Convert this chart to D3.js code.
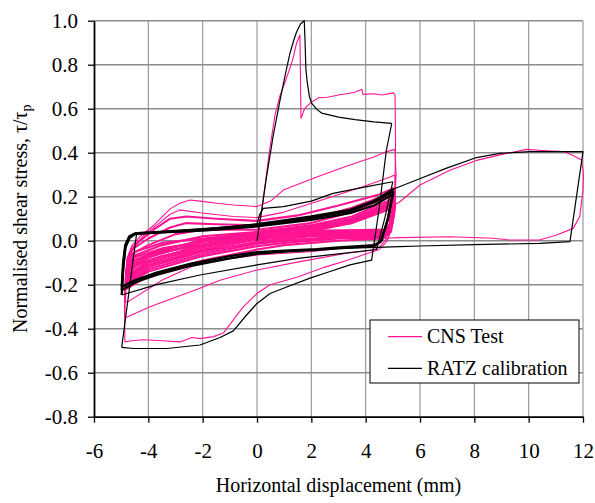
<!DOCTYPE html>
<html><head><meta charset="utf-8">
<script src="https://cdn.jsdelivr.net/npm/d3@7"></script>
<style>body{margin:0;background:#fff}svg, svg text{font-family:"Liberation Serif","Times New Roman",Times,"Nimbus Roman","DejaVu Serif",serif !important}</style>
</head><body><svg id="c" width="595" height="503"></svg>
<script>
// ---- axis ticks ----
const xTicks = [-6,-4,-2,0,2,4,6,8,10,12];
const yTicks = [-0.8,-0.6,-0.4,-0.2,0.0,0.2,0.4,0.6,0.8,1.0];
const seriesNames = ["CNS Test","RATZ calibration"];

// ---- CNS Test (pink) : [displacement mm, tau/tau_p] ----
const cnsLoad1 = [[0,0],[0.2,0.16],[0.45,0.4],[0.66,0.57],[0.85,0.66],[1.03,0.72],[1.2,0.78],[1.33,0.83],[1.46,0.9],[1.58,0.935],[1.6,0.74],[1.62,0.556],[1.75,0.6],[1.95,0.624],[2.26,0.65],[2.6,0.652],[3.0,0.662],[3.3,0.668],[3.6,0.675],[3.86,0.688],[3.9,0.665],[4.3,0.668],[4.6,0.662],[5.02,0.672],[5.08,0.665]];
const cnsUnload1 = [[5.08,0.665],[5.1,0.45],[5.08,0.25],[5.0,0.08],[4.8,0.0],[4.5,-0.04],[3.3,-0.09],[2.5,-0.12],[1.5,-0.165],[0.48,-0.2],[0,-0.24],[-0.5,-0.3],[-0.87,-0.36],[-1.24,-0.42],[-1.6,-0.436],[-2.1,-0.445],[-2.4,-0.44],[-2.83,-0.46],[-3.5,-0.455],[-4.19,-0.45],[-4.6,-0.455],[-4.86,-0.46]];
const cnsLoad2 = [[-4.86,-0.46],[-4.88,-0.3],[-4.85,-0.18],[-4.78,-0.08],[-4.6,-0.02],[-4.3,0.02],[-3.8,0.07],[-3.4,0.12],[-3.17,0.147],[-2.84,0.17],[-2.47,0.185],[-2.1,0.18],[-1.48,0.17],[-0.87,0.162],[0,0.155],[0.5,0.18],[0.97,0.23],[2.2,0.29],[3.42,0.344],[4.3,0.38],[4.77,0.405],[5.08,0.415]];
const cnsUnload2 = [[5.08,0.415],[5.12,0.3],[5.05,0.12],[4.85,0.02],[4.5,-0.03],[4.28,-0.042],[3.3,-0.057],[1.58,-0.095],[0,-0.133],[-1.36,-0.18],[-2.1,-0.216],[-3.94,-0.3],[-4.74,-0.345],[-4.86,-0.35]];
const cnsLoad3 = [[-4.86,-0.35],[-4.85,-0.2],[-4.78,-0.08],[-4.6,-0.03],[-4.2,0.02],[-3.6,0.08],[-3.2,0.12],[-2.84,0.14],[-2.1,0.127],[-0.87,0.11],[0,0.105],[1,0.13],[2.5,0.19],[4,0.25],[4.9,0.29],[5.08,0.3]];
const cnsUnload3 = [[5.08,0.3],[5.1,0.15],[4.95,0.04],[4.6,0.0],[4.2,-0.02],[3,-0.035],[1.95,-0.05],[0,-0.065],[-2.1,-0.1],[-3.5,-0.18],[-4.74,-0.277],[-4.86,-0.28]];
const cnsLoad4 = [[-4.86,-0.28],[-4.82,-0.14],[-4.7,-0.06],[-4.4,-0.01],[-3.8,0.05],[-3.2,0.1],[-2.6,0.11],[-1.5,0.1],[0,0.09],[1.5,0.115],[3,0.16],[4.5,0.21],[5.05,0.24]];
const cnsUnload4 = [[5.05,0.24],[5.05,0.12],[4.9,0.04],[4.6,0.01],[3,0.0],[1,-0.02],[0,-0.04],[-2,-0.09],[-4,-0.16],[-4.82,-0.22]];
const cnsLoad5 = [[-4.82,-0.22],[-4.78,-0.1],[-4.6,-0.04],[-4,0.01],[-3.2,0.06],[-2.6,0.08],[-1.5,0.075],[0,0.07],[2,0.1],[3.5,0.15],[4.8,0.21],[5.02,0.22]];
const cnsUnload5 = [[5.02,0.22],[5.0,0.1],[4.85,0.03],[4.6,0.015],[3,0.01],[1,-0.01],[0,-0.025],[-2,-0.07],[-4,-0.14],[-4.8,-0.2]];
const cnsLoad6 = [[-4.8,-0.2],[-4.75,-0.1],[-4.6,-0.06],[-4,-0.02],[-3,0.03],[-2,0.05],[-1,0.05],[0,0.05],[2,0.08],[3.5,0.13],[4.8,0.2],[5.0,0.21]];
const cnsUnload6 = [[5.0,0.21],[4.95,0.09],[4.8,0.03],[4.5,0.02],[3,0.015],[1,0.0],[0,-0.015],[-2,-0.06],[-4,-0.13],[-4.78,-0.19]];
const cnsLoad7 = [[-4.78,-0.19],[-4.72,-0.1],[-4.55,-0.07],[-3.5,-0.02],[-2,0.02],[0,0.04],[2,0.07],[3.5,0.11],[4.8,0.18],[5.0,0.2]];
const cnsUnload7 = [[5.0,0.2],[4.95,0.08],[4.8,0.03],[4.4,0.025],[2,0.02],[0,-0.005],[-2,-0.05],[-4,-0.12],[-4.75,-0.18]];
const cnsLoad8 = [[-4.75,-0.18],[-4.7,-0.11],[-4.55,-0.09],[-3.5,-0.04],[-2,0.0],[0,0.03],[2,0.06],[3.5,0.1],[4.8,0.17],[4.98,0.19]];
const cnsUnload8 = [[4.98,0.19],[4.92,0.07],[4.75,0.03],[4.4,0.03],[2,0.025],[0,0.005],[-2,-0.04],[-4,-0.11],[-4.72,-0.17]];
const cnsLoad9 = [[-4.72,-0.17],[-4.68,-0.12],[-4.5,-0.1],[-3.5,-0.055],[-2,-0.015],[0,0.02],[2,0.05],[3.5,0.09],[4.8,0.16],[4.98,0.18]];
const cnsUnload9 = [[4.98,0.18],[4.9,0.07],[4.75,0.035],[4.4,0.035],[2,0.03],[0,0.015],[-2,-0.03],[-4,-0.1],[-4.7,-0.16]];
const cnsLoad10 = [[-4.7,-0.16],[-4.66,-0.12],[-4.5,-0.11],[-3.5,-0.07],[-2,-0.03],[0,0.01],[2,0.045],[3.5,0.085],[4.8,0.15],[4.97,0.17]];
const cnsUnload10 = [[4.97,0.17],[4.9,0.06],[4.7,0.04],[4.3,0.04],[2,0.035],[0,0.02],[-2,-0.02],[-4,-0.09],[-4.68,-0.15]];
const cnsLoad11 = [[-4.68,-0.15],[-4.65,-0.08],[-4.5,-0.05],[-3.5,-0.01],[-2,0.01],[0,0.035],[2,0.065],[3.5,0.1],[4.8,0.165],[4.97,0.185]];
const cnsUnload11 = [[4.97,0.185],[4.9,0.08],[4.72,0.045],[4.3,0.045],[2,0.04],[0,0.025],[-2,-0.005],[-4,-0.075],[-4.7,-0.14]];
const cnsLoad12 = [[-4.7,-0.14],[-4.66,-0.09],[-4.5,-0.075],[-3.5,-0.035],[-2,-0.005],[0,0.025],[2,0.055],[3.5,0.095],[4.8,0.155],[4.97,0.175]];
const cnsUnload12 = [[4.97,0.175],[4.9,0.07],[4.72,0.05],[4.3,0.05],[2,0.045],[0,0.03],[-2,0.005],[-4,-0.065],[-4.7,-0.13]];
const cnsLoad13 = [[-4.7,-0.13],[-4.66,-0.1],[-4.5,-0.09],[-3.5,-0.05],[-2,-0.02],[0,0.015],[2,0.05],[3.5,0.08],[4.8,0.14],[4.96,0.16]];
const cnsUnload13 = [[4.96,0.16],[4.88,0.06],[4.7,0.03],[4.3,0.025],[2,0.01],[0,-0.01],[-2,-0.045],[-4,-0.11],[-4.68,-0.15]];
const cnsLoad12mm = [[-4.68,-0.15],[-4.64,-0.12],[-4.5,-0.115],[-3.5,-0.08],[-2,-0.04],[0,0.005],[2,0.04],[3.5,0.08],[4.6,0.13],[5.26,0.177],[6.0,0.253],[7.1,0.32],[8.08,0.365],[8.94,0.39],[9.92,0.415],[10.5,0.41],[11.27,0.405],[11.6,0.39],[11.95,0.367],[12.02,0.3],[12.0,0.23],[11.88,0.11],[11.64,0.056],[11.03,0.026],[10.4,0.003],[9.3,0.003],[8.7,0.011],[7.1,0.018],[5.26,0.014],[4.65,0.011],[4.0,0.012]];

// ---- RATZ calibration (black) ----
const ratzLoad1 = [[0,0],[0.15,0.12],[0.35,0.29],[0.6,0.48],[0.85,0.64],[1.05,0.76],[1.21,0.85],[1.35,0.91],[1.46,0.95],[1.6,0.985],[1.74,1.0],[1.77,0.9],[1.8,0.78],[1.85,0.72],[1.93,0.655],[2.01,0.625],[2.2,0.597],[2.38,0.58],[3.0,0.562],[3.61,0.55],[4.3,0.54],[4.96,0.533]];
const ratzUnload1 = [[4.96,0.533],[4.76,0.41],[4.5,0.15],[4.22,-0.088],[3.42,-0.11],[2.69,-0.14],[1.95,-0.17],[1.0,-0.215],[0.48,-0.24],[0,-0.285],[-0.4,-0.34],[-0.87,-0.41],[-1.36,-0.44],[-2.1,-0.474],[-3.32,-0.49],[-4.55,-0.49],[-4.98,-0.485]];
const ratzLoad2 = [[-4.98,-0.485],[-4.43,0.034],[-3,0.045],[-1.5,0.058],[0,0.075],[0.1,0.12],[0.23,0.147],[0.97,0.155],[2,0.18],[2.8,0.215],[4,0.245],[5.0,0.268]];
const ratzUnload2 = [[5.0,0.268],[4.7,0.1],[4.4,-0.04],[3,-0.06],[1.5,-0.08],[0,-0.11],[-2.1,-0.156],[-3.7,-0.2],[-4.98,-0.247]];
const ratzLoad3 = [[-4.98,-0.247],[-4.92,-0.12],[-4.84,-0.03],[-4.7,0.01],[-4.55,0.026],[-4.43,0.034],[-3,0.04],[-2,0.046],[-1,0.055],[0,0.065],[1,0.08],[2,0.095],[3.42,0.125],[4.3,0.16],[5.0,0.21]];
const ratzUnload3 = [[5.0,0.21],[4.8,0.09],[4.55,-0.005],[4.3,-0.025],[3,-0.035],[2.2,-0.042],[1,-0.05],[0,-0.06],[-1,-0.08],[-2.47,-0.115],[-3.7,-0.155],[-4.5,-0.19],[-4.98,-0.225]];
const ratzLoad4 = [[-4.98,-0.225],[-4.92,-0.11],[-4.84,-0.025],[-4.7,0.015],[-4.5,0.03],[-3,0.042],[-2,0.05],[-1,0.06],[0,0.072],[1,0.088],[2,0.104],[3.42,0.135],[4.3,0.175],[5.02,0.225]];
const ratzUnload4 = [[5.02,0.225],[4.82,0.1],[4.58,0.0],[4.35,-0.02],[3,-0.03],[2.2,-0.038],[1,-0.045],[0,-0.052],[-1,-0.07],[-2.47,-0.105],[-3.7,-0.145],[-4.5,-0.18],[-4.98,-0.21]];
const ratzLoad5 = [[-4.98,-0.21],[-4.93,-0.1],[-4.85,-0.02],[-4.7,0.02],[-4.5,0.033],[-3,0.044],[-2,0.053],[-1,0.062],[0,0.075],[1,0.092],[2,0.11],[3.42,0.14],[4.3,0.18],[5.03,0.235]];
const ratz12mm = [[5.03,0.235],[5.87,0.276],[6.98,0.33],[8.08,0.378],[8.94,0.397],[10.05,0.405],[12,0.405],[11.52,-0.004],[10.4,-0.012],[8,-0.018],[6.0,-0.024],[5.26,-0.027],[4.4,-0.03],[3,-0.035]];

const cnsOuter = [cnsLoad1,cnsUnload1,cnsLoad2,cnsUnload2,cnsLoad3,cnsUnload3,cnsLoad12mm];
const cnsBand = [cnsLoad4,cnsUnload4,cnsLoad5,cnsUnload5,cnsLoad6,cnsUnload6,cnsLoad7,cnsUnload7,cnsLoad8,cnsUnload8,cnsLoad9,cnsUnload9,cnsLoad10,cnsUnload10,cnsLoad11,cnsUnload11,cnsLoad12,cnsUnload12,cnsLoad13,cnsUnload13];
const ratzThin = [ratzLoad1,ratzUnload1,ratzLoad2,ratzUnload2,ratz12mm];
const ratzBand = [ratzLoad3,ratzUnload3,ratzLoad4,ratzUnload4,ratzLoad5];

const PINK = "#ff1493";
const FONT = "'Liberation Serif','Times New Roman',Times,'Nimbus Roman','DejaVu Serif',serif";
const svg = d3.select("#c");
svg.append("rect").attr("width",595).attr("height",503).attr("fill","#fff");

const x = d3.scaleLinear().domain([-6,12]).range([94,583]);
const y = d3.scaleLinear().domain([-0.8,1.0]).range([416.7,20.7]);

// grid
const g = svg.append("g");
g.selectAll("line.v").data(xTicks.slice(1)).join("line")
  .attr("x1",d=>x(d)).attr("x2",d=>x(d)).attr("y1",y(-0.8)).attr("y2",y(1.0))
  .attr("stroke","#9a9a9a").attr("stroke-width",1.2);
g.selectAll("line.h").data(yTicks.slice(1)).join("line")
  .attr("x1",x(-6)).attr("x2",x(12)).attr("y1",d=>y(d)).attr("y2",d=>y(d))
  .attr("stroke","#8c8c8c").attr("stroke-width",1.4);

const line = d3.line().x(d=>x(d[0])).y(d=>y(d[1]));

// CNS
svg.append("g").selectAll("path").data(cnsBand).join("path")
  .attr("d",line).attr("fill","none").attr("stroke",PINK).attr("stroke-width",2.1).attr("stroke-linejoin","round");
svg.append("g").selectAll("path").data(cnsOuter).join("path")
  .attr("d",line).attr("fill","none").attr("stroke",PINK).attr("stroke-width",1.1).attr("stroke-linejoin","round");
// RATZ
svg.append("g").selectAll("path").data(ratzThin).join("path")
  .attr("d",line).attr("fill","none").attr("stroke","#000").attr("stroke-width",1.2).attr("stroke-linejoin","round");
svg.append("g").selectAll("path").data(ratzBand).join("path")
  .attr("d",line).attr("fill","none").attr("stroke","#000").attr("stroke-width",2.3).attr("stroke-linejoin","round");

// axes
const ax = svg.append("g").attr("transform",`translate(0,${y(-0.8)})`)
  .call(d3.axisBottom(x).tickValues(xTicks).tickFormat(d=>String(d)).tickSize(6).tickPadding(20).tickSizeOuter(0));
const ay = svg.append("g").attr("transform",`translate(${x(-6)},0)`)
  .call(d3.axisLeft(y).tickValues(yTicks).tickFormat(d=>d.toFixed(1)).tickSize(6).tickPadding(10).tickSizeOuter(0));
[ax,ay].forEach(a=>{
  a.attr("font-family",FONT).attr("font-size",21);
  a.select(".domain").attr("stroke","#000").attr("stroke-width",1.8);
  a.selectAll(".tick line").attr("stroke","#000").attr("stroke-width",1.3);
  a.selectAll(".tick text").attr("fill","#000");
});

// axis titles
svg.append("text").attr("x",(x(-6)+x(12))/2).attr("y",492).attr("text-anchor","middle")
  .attr("font-family",FONT).attr("font-size",20).text("Horizontal displacement (mm)");
const yt = svg.append("text").attr("transform",`translate(27,${(y(-0.8)+y(1.0))/2}) rotate(-90)`)
  .attr("text-anchor","middle").attr("font-family",FONT).attr("font-size",20);
yt.append("tspan").text("Normalised shear stress, τ/τ");
yt.append("tspan").attr("font-size",14).attr("dy",4).text("p");

// legend
const lg = svg.append("g").attr("font-family",FONT);
lg.append("rect").attr("x",370).attr("y",320).attr("width",209).attr("height",63)
  .attr("fill","#fff").attr("stroke","#000").attr("stroke-width",1);
const items = [{n:seriesNames[0],c:PINK,yy:336.7},{n:seriesNames[1],c:"#000",yy:368.3}];
items.forEach(it=>{
  lg.append("line").attr("x1",388).attr("x2",422).attr("y1",it.yy).attr("y2",it.yy).attr("stroke",it.c).attr("stroke-width",1.3);
  lg.append("text").attr("x",427).attr("y",it.yy+6.5).attr("font-size",20).text(it.n);
});
</script></body></html>
